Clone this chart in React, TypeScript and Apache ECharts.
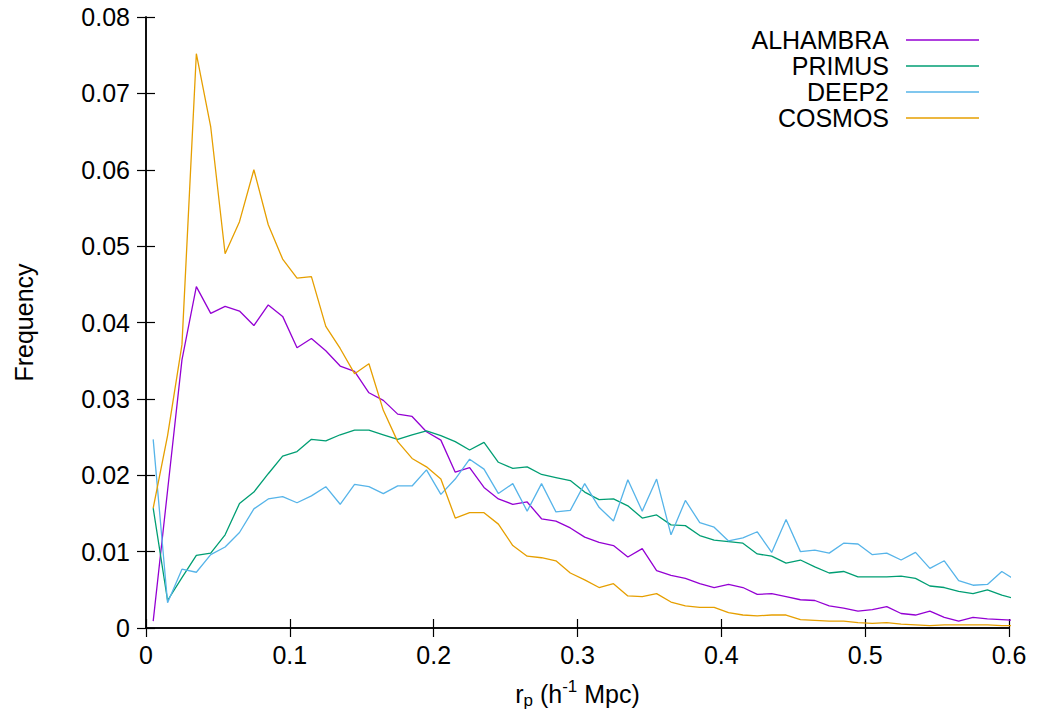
import React, { useEffect, useRef } from "react";
import * as echarts from "echarts";

const rp = [
  0.005, 0.015, 0.025, 0.035, 0.045, 0.055, 0.065, 0.075, 0.085, 0.095,
  0.105, 0.115, 0.125, 0.135, 0.145, 0.155, 0.165, 0.175, 0.185, 0.195,
  0.205, 0.215, 0.225, 0.235, 0.245, 0.255, 0.265, 0.275, 0.285, 0.295,
  0.305, 0.315, 0.325, 0.335, 0.345, 0.355, 0.365, 0.375, 0.385, 0.395,
  0.405, 0.415, 0.425, 0.435, 0.445, 0.455, 0.465, 0.475, 0.485, 0.495,
  0.505, 0.515, 0.525, 0.535, 0.545, 0.555, 0.565, 0.575, 0.585, 0.595,
  0.605,
];

const alhambra = [
  0.0009, 0.018, 0.0351, 0.0447, 0.0412, 0.0421, 0.0415, 0.0396, 0.0423, 0.0408,
  0.0367, 0.0379, 0.0363, 0.0343, 0.0336, 0.0308, 0.0298, 0.028, 0.0277, 0.0257,
  0.0246, 0.0204, 0.021, 0.0184, 0.0169, 0.0162, 0.0165, 0.0143, 0.014, 0.0131,
  0.0119, 0.0112, 0.0108, 0.0093, 0.0104, 0.0075, 0.0069, 0.0065, 0.0058, 0.0053,
  0.0057, 0.0053, 0.0044, 0.0045, 0.0041, 0.0037, 0.0036, 0.0029, 0.0026, 0.0022,
  0.0024, 0.0028, 0.0019, 0.0017, 0.0022, 0.0014, 0.0009, 0.0014, 0.0012, 0.0011,
  0.001,
];

const primus = [
  0.0157, 0.0036, 0.0066, 0.0095, 0.0098, 0.0122, 0.0163, 0.0178, 0.0202, 0.0225,
  0.0231, 0.0247, 0.0245, 0.0253, 0.0259, 0.0259, 0.0253, 0.0247, 0.0253, 0.0258,
  0.0252, 0.0244, 0.0233, 0.0243, 0.0217, 0.0209, 0.0211, 0.0201, 0.0197, 0.0193,
  0.0178, 0.0168, 0.0169, 0.016, 0.0144, 0.0148, 0.0135, 0.0134, 0.0121, 0.0115,
  0.0113, 0.0111, 0.0097, 0.0094, 0.0085, 0.0089, 0.008, 0.0072, 0.0074, 0.0067,
  0.0067, 0.0067, 0.0068, 0.0065, 0.0055, 0.0053, 0.0048, 0.0045, 0.005, 0.0043,
  0.0038,
];

const deep2 = [
  0.0247, 0.0033, 0.0077, 0.0073, 0.0096, 0.0106, 0.0125, 0.0156, 0.0169, 0.0172,
  0.0164, 0.0173, 0.0185, 0.0162, 0.0188, 0.0185, 0.0176, 0.0186, 0.0186, 0.0207,
  0.0175, 0.0195, 0.0221, 0.0208, 0.0176, 0.0189, 0.0153, 0.0189, 0.0152, 0.0154,
  0.0189, 0.0158, 0.014, 0.0194, 0.0153, 0.0195, 0.0122, 0.0167, 0.0138, 0.0132,
  0.0114, 0.0118, 0.0126, 0.0099, 0.0142, 0.01, 0.0102, 0.0098, 0.0111, 0.011,
  0.0096, 0.0098, 0.0089, 0.0099, 0.0078, 0.0088, 0.0062, 0.0056, 0.0057, 0.0074,
  0.0062,
];

const cosmos = [
  0.0157, 0.0252, 0.0371, 0.0752, 0.0656, 0.049, 0.0532, 0.06, 0.0528, 0.0483,
  0.0458, 0.046, 0.0395, 0.0366, 0.0333, 0.0346, 0.0285, 0.0244, 0.0222, 0.0211,
  0.0195, 0.0144, 0.0151, 0.0151, 0.0136, 0.0108, 0.0094, 0.0092, 0.0088, 0.0072,
  0.0063, 0.0053, 0.0058, 0.0042, 0.0041, 0.0045, 0.0034, 0.0029, 0.0027, 0.0027,
  0.002, 0.0017, 0.0016, 0.0017, 0.0017, 0.0011, 0.001, 0.0009, 0.0009, 0.0007,
  0.0006, 0.0007, 0.0005, 0.0004, 0.0003, 0.0004, 0.0004, 0.0004, 0.0004, 0.0003,
  0.0003,
];

const seriesNames = ["ALHAMBRA", "PRIMUS", "DEEP2", "COSMOS"];
const seriesValues = [alhambra, primus, deep2, cosmos];
const seriesColors = ["#9400d3", "#009e73", "#56b4e9", "#e69f00"];

const FONT = "Liberation Sans, Arial, Helvetica, sans-serif";

export default function App() {
  const ref = useRef<HTMLDivElement>(null);
  useEffect(() => {
    if (!ref.current) return;
    const chart = echarts.init(ref.current, null, { renderer: "svg" });
    const tickStyle = { inside: true, length: 9, lineStyle: { color: "#000", width: 1.2 } };
    const lineStyle = { lineStyle: { color: "#000", width: 1.5 } };
    chart.setOption({
      animation: false,
      backgroundColor: "#fff",
      textStyle: { fontFamily: FONT },
      grid: { left: 146, right: 28, top: 17, bottom: 91, containLabel: false },
      legend: {
        orient: "vertical",
        right: 53,
        top: 22,
        align: "right",
        icon: "rect",
        itemWidth: 73,
        itemHeight: 1.4,
        itemGap: 0,
        textStyle: { fontSize: 25, color: "#000", fontFamily: FONT, padding: [0, 12, 0, 0], lineHeight: 26 },
        data: seriesNames,
      },
      xAxis: [
        {
          type: "value",
          min: 0,
          max: 0.6,
          interval: 0.1,
          position: "bottom",
          axisLine: { show: true, ...lineStyle },
          axisTick: tickStyle,
          splitLine: { show: false },
          axisLabel: { fontSize: 25, color: "#000", margin: 14, fontFamily: FONT },
          name: "{a|r}{s|p}{a| (h}{u|-1}{a| Mpc)}",
          nameLocation: "middle",
          nameGap: 50,
          nameTextStyle: {
            fontFamily: FONT,
            rich: {
              a: { fontSize: 25, color: "#000", fontFamily: FONT },
              s: { fontSize: 17, color: "#000", fontFamily: FONT, padding: [14, 0, 0, 0] },
              u: { fontSize: 17, color: "#000", fontFamily: FONT, padding: [0, 0, 14, 0] },
            },
          },
        },
        {
          type: "value",
          min: 0,
          max: 0.6,
          interval: 0.1,
          position: "top",
          axisLine: { show: true, ...lineStyle },
          axisTick: tickStyle,
          splitLine: { show: false },
          axisLabel: { show: false },
        },
      ],
      yAxis: [
        {
          type: "value",
          min: 0,
          max: 0.08,
          interval: 0.01,
          position: "left",
          axisLine: { show: true, ...lineStyle },
          axisTick: tickStyle,
          splitLine: { show: false },
          axisLabel: { fontSize: 25, color: "#000", margin: 16, fontFamily: FONT },
          name: "Frequency",
          nameLocation: "middle",
          nameGap: 110,
          nameTextStyle: { fontSize: 25, color: "#000", fontFamily: FONT },
        },
        {
          type: "value",
          min: 0,
          max: 0.08,
          interval: 0.01,
          position: "right",
          axisLine: { show: true, ...lineStyle },
          axisTick: tickStyle,
          splitLine: { show: false },
          axisLabel: { show: false },
        },
      ],
      series: seriesNames.map((name, k) => ({
        name,
        type: "line",
        xAxisIndex: 0,
        yAxisIndex: 0,
        data: rp.map((x, i) => [x, seriesValues[k][i]]),
        symbol: "none",
        showSymbol: false,
        clip: true,
        color: seriesColors[k],
        lineStyle: { width: 1.3, color: seriesColors[k] },
      })),
    });
    return () => chart.dispose();
  }, []);
  return <div ref={ref} style={{ width: 1037, height: 719, position: "absolute", left: 0, top: 0 }} />;
}
